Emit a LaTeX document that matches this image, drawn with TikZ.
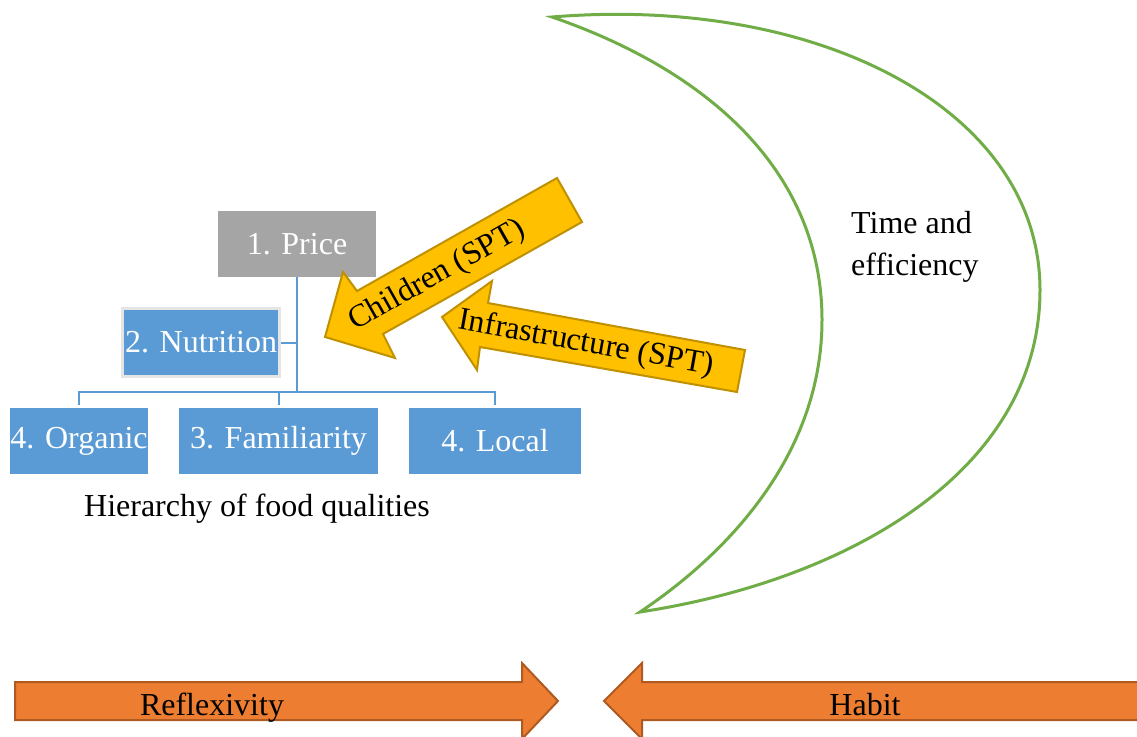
\documentclass[tikz,border=0pt]{standalone}
\usepackage{fontspec}
\newfontfamily\libser{Liberation Serif}[Ligatures=NoCommon]
\newfontfamily\libserrot{Liberation Serif}[Scale=0.9999,Ligatures=NoCommon]
\begin{document}
\begin{tikzpicture}[x=1pt,y=-1pt,
  txt/.style={font=\fontsize{32}{42}\selectfont\libser},
  rtxt/.style={font=\fontsize{32}{42}\selectfont\libserrot},
  qbox/.style={txt,fill=qblue,text=white,inner sep=0pt,minimum height=66pt,anchor=center},
  conn/.style={draw=qblue,line width=2pt},
  yarrow/.style={fill=yfill,draw=yline,line width=2pt,line join=miter},
  oarrow/.style={fill=ofill,draw=oline,line width=2pt,line join=miter},
  crescent/.style={draw=cgreen,line width=3pt,line join=miter}]
\definecolor{qblue}{HTML}{5B9BD5}
\definecolor{qgray}{HTML}{A5A5A5}
\definecolor{yfill}{HTML}{FFC000}
\definecolor{yline}{HTML}{BF9000}
\definecolor{ofill}{HTML}{ED7D31}
\definecolor{oline}{HTML}{AE5A21}
\definecolor{cgreen}{HTML}{70AD47}
\useasboundingbox (0,0) rectangle (1137,736);

% crescent
\draw[crescent] (552,17) .. controls (820,-5) and (1040,110) .. (1040,290)
  .. controls (1040,470) and (850,580) .. (640,612)
  .. controls (740,545) and (822,445) .. (822,320)
  .. controls (822,180) and (720,75) .. cycle;
\node[txt,align=left,anchor=north west,inner sep=0pt] (time) at (851,211) {Time and\\efficiency};

% hierarchy
\node[qbox,fill=qgray,minimum width=158pt] (price) at (297,244) {1. Price};
\node[qbox,minimum width=157pt,minimum height=68pt,draw=black!10,line width=3pt] (nutri) at (201,342.5) {2. Nutrition};
\node[qbox,minimum width=136pt] (org) at (79,441) {4. Organic};
\node[qbox,minimum width=199pt] (fam) at (278.5,441) {3. Familiarity};
\node[qbox,minimum width=172pt] (loc) at (495,441) {4. Local};
\coordinate (hub) at (297,392);
\draw[conn] (price.south) -- (hub);
\draw[conn] (nutri.east) -- (nutri.east -| hub);
\draw[conn] ([yshift=3pt]org.north) |- (hub);
\draw[conn] (hub) -| ([yshift=3pt]loc.north);
\draw[conn] ([yshift=3pt]fam.north) -- (fam.north |- hub);
\node[txt,anchor=base] (cap) at (257,516) {Hierarchy of food qualities};

% yellow arrows
\draw[yarrow] (325,337) -- (343,272) -- (357,291) -- (557,178) -- (582,222) -- (383,334) -- (395,358) -- cycle;
\node[rtxt,rotate=29.4,inner sep=0pt] (child) at (437,276) {Children (SPT)};
\draw[yarrow] (442,317) -- (492,281) -- (488,303) -- (745,350) -- (737,392) -- (480,347) -- (477,370) -- cycle;
\node[rtxt,rotate=-10.2,inner sep=0pt] (infra) at (586,344) {Infrastructure (SPT)};

% bottom arrows
\draw[oarrow] (15,682) -- (522,682) -- (522,663) -- (558,701) -- (522,739) -- (522,720) -- (15,720) -- cycle;
\node[txt,anchor=base] (refl) at (212,715) {Reflexivity};
\draw[oarrow] (1145,682) -- (642,682) -- (642,663) -- (604,701) -- (642,739) -- (642,720) -- (1145,720) -- cycle;
\node[txt,anchor=base] (habit) at (865,715) {Habit};
\end{tikzpicture}
\end{document}
